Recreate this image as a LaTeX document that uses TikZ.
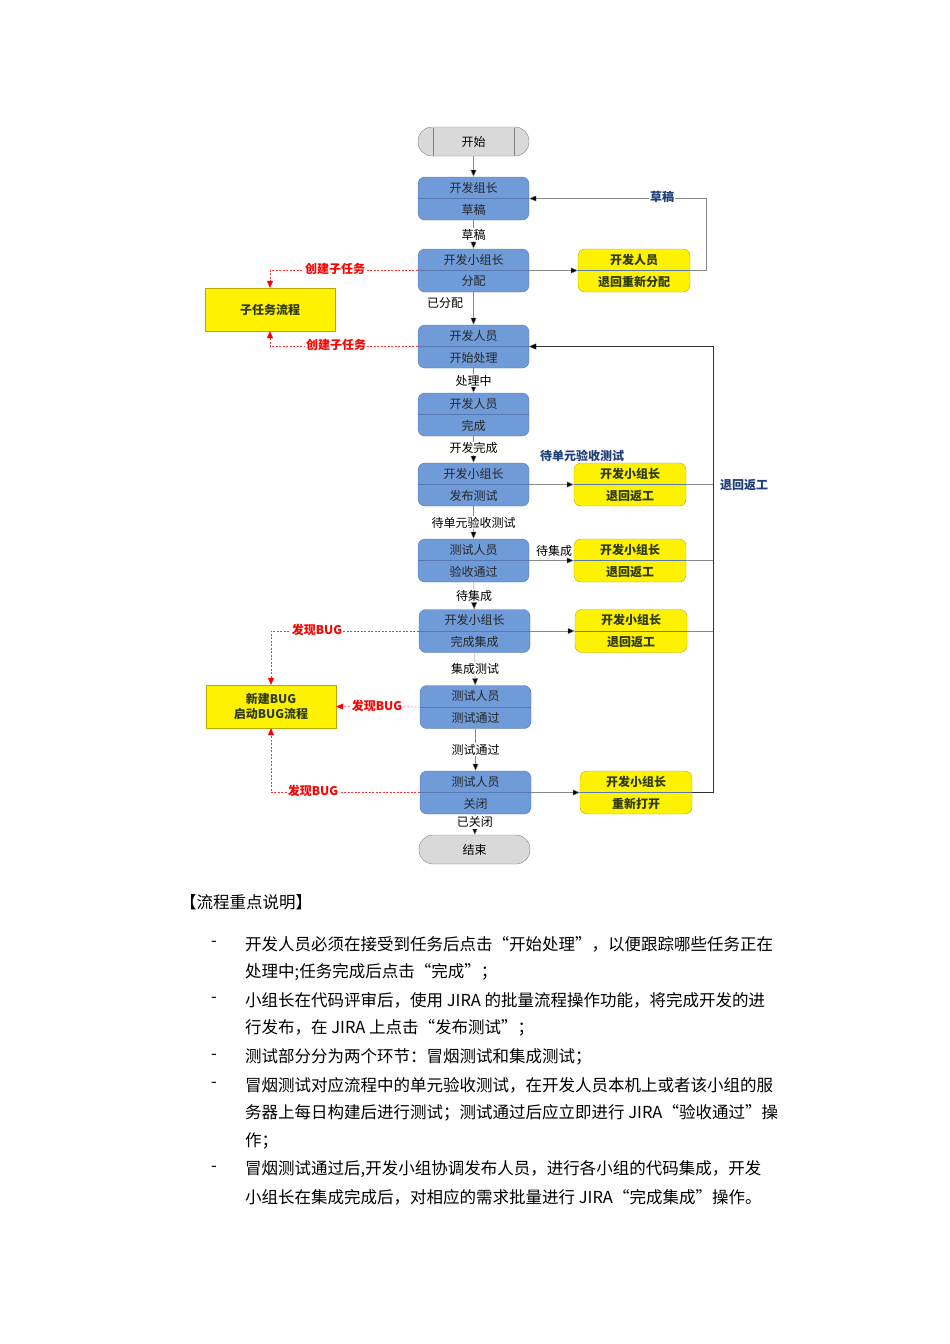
\documentclass[tikz,border=0pt]{standalone}
\usepackage{fontspec}
\setmainfont{Noto Sans CJK SC}
\usetikzlibrary{arrows.meta}
\definecolor{bfill}{HTML}{6F9BD8}
\definecolor{bdraw}{HTML}{5878B0}
\definecolor{ydraw}{HTML}{B8A800}
\definecolor{ytext}{HTML}{2E3A10}
\definecolor{lblue}{HTML}{1F3F7A}
\definecolor{gline}{HTML}{8A8A8A}
\tikzset{
 blue/.style={draw=bdraw,fill=bfill,rounded corners=7pt,minimum height=43pt,inner sep=0},
 yel/.style={draw=ydraw,fill=yellow,rounded corners=7pt,minimum height=43pt,inner sep=0},
 term/.style={draw=gray,fill=gray!30,rounded corners=14pt,minimum height=29pt,minimum width=111pt,font=\fontsize{12}{14}\selectfont},
 txt/.style={font=\fontsize{12}{14}\selectfont,text=black!85},
 ytxt/.style={font=\fontsize{12}{14}\selectfont\bfseries,text=ytext},
 flow/.style={draw=gline,-{Triangle[length=7pt,width=6pt]},arrows={-{Triangle[length=7pt,width=6pt,fill=black]}}},
 red/.style={draw=red!80,dashed,dash pattern=on 2pt off 1.5pt,thin,-{Triangle[length=7pt,width=6pt,fill=red,color=red]}},
 redl/.style={font=\fontsize{12}{14}\selectfont\bfseries,text=red,fill=white,inner sep=1pt},
 vl/.style={font=\fontsize{12}{14}\selectfont,fill=white,inner sep=1pt},
 body/.style={font=\fontsize{16.5}{20}\selectfont,anchor=west,inner sep=0}
}
\newcommand\blk[8]{% name,cx,cy,w,top,bottom,style,textstyle
 \node[#7,minimum width=#4pt] (#1) at (#2,#3) {};
 \draw[draw=bdraw] (#1.west) -- (#1.east);
 \node[#8] at (#2,#3-11) {#5};
 \node[#8] at (#2,#3+11) {#6};}
\begin{document}
\begin{tikzpicture}[x=1pt,y=-1pt]
\useasboundingbox[fill=white] (0,0) rectangle (950,1344);
% terminals
\node[term] (start) at (473.5,141.5) {开始};
\draw[gray] (433,127.5) -- (433,155.5) (514,127.5) -- (514,155.5);
\node[term] (end) at (474.5,849.5) {结束};
% blue blocks
\blk{b1}{473.5}{198.5}{111}{开发组长}{草稿}{blue}{txt}
\blk{b2}{473.5}{270.5}{111}{开发小组长}{分配}{blue}{txt}
\blk{b3}{473.5}{346.5}{111}{开发人员}{开始处理}{blue}{txt}
\blk{b4}{473.5}{414.5}{111}{开发人员}{完成}{blue}{txt}
\blk{b5}{473.5}{484.5}{111}{开发小组长}{发布测试}{blue}{txt}
\blk{b6}{473.5}{560.5}{111}{测试人员}{验收通过}{blue}{txt}
\blk{b7}{474.5}{631}{111}{开发小组长}{完成集成}{blue}{txt}
\blk{b8}{475.5}{707}{111}{测试人员}{测试通过}{blue}{txt}
\blk{b9}{475.5}{792.5}{111}{测试人员}{关闭}{blue}{txt}
% yellow blocks
\blk{y1}{634}{270.5}{112}{开发人员}{退回重新分配}{yel}{ytxt}
\blk{y2}{630}{484.5}{112}{开发小组长}{退回返工}{yel}{ytxt}
\blk{y3}{630}{560.5}{112}{开发小组长}{退回返工}{yel}{ytxt}
\blk{y4}{631}{631}{112}{开发小组长}{退回返工}{yel}{ytxt}
\blk{y5}{636}{792.5}{112}{开发小组长}{重新打开}{yel}{ytxt}
\node[draw=ydraw,fill=yellow,minimum width=130pt,minimum height=43pt] (sub) at (270,309.5) {};
\node[ytxt] at (sub) {子任务流程};
\node[draw=ydraw,fill=yellow,minimum width=130pt,minimum height=43pt,align=center,font=\fontsize{12}{15}\selectfont\bfseries,text=ytext] (bug) at (271,706.5) {新建BUG\\启动BUG流程};
% vertical flow
\draw[flow] (start) -- (b1);
\draw[flow] (b1) -- node[vl]{草稿} (b2);
\draw[flow] (b2) -- (b3);
\node[font=\fontsize{12}{14}\selectfont] at (445,303) {已分配};
\draw[flow] (b3) -- node[vl]{处理中} (b4);
\draw[flow] (b4) -- node[vl,pos=0.45]{开发完成} (b5);
\draw[flow] (b5) -- node[vl]{待单元验收测试} (b6);
\draw[flow] (b6) -- node[vl]{待集成} (b7);
\draw[flow] (b7) -- node[vl]{集成测试} (b8);
\draw[flow] (b8) -- node[vl]{测试通过} (b9);
\draw[flow] (b9) -- node[vl,pos=0.4]{已关闭} (end);
% right flows
\draw[flow] (b2.east) -- (y1.west);
\draw[flow] (b5.east) -- (y2.west);
\draw[flow] (b6.east) -- (y3.west);
\draw[flow] (b7.east) -- (y4.west);
\draw[flow] (b9.east) -- (y5.west);
\node[font=\fontsize{12}{14}\selectfont] at (554,551) {待集成};
\node[font=\fontsize{12}{14}\selectfont\bfseries,text=lblue] at (582,456) {待单元验收测试};
\coordinate (r1) at (706,270.5);
\coordinate (r2) at (706,198.5);
\draw[flow] (y1.east) -- (r1) -- (r2) -- (b1.east);
\node[font=\fontsize{12}{14}\selectfont\bfseries,text=lblue,fill=white,inner sep=1pt] at (662,197) {草稿};
\coordinate (q1) at (713,792.5);
\coordinate (q2) at (713,346.5);
\draw[flow,draw=black!80] (y5.east) -- (q1) -- (q2) -- (b3.east);
\draw[gline] (y2.east) -- (713,484.5) (y3.east) -- (713,560.5) (y4.east) -- (713,631);
\node[font=\fontsize{12}{14}\selectfont\bfseries,text=lblue] at (744,485) {退回返工};
% red dashed
\coordinate (c1) at (270,270.5);
\coordinate (c2) at (270,346.5);
\draw[red] (b2.west) -- (c1) -- (sub.north);
\draw[red] (b3.west) -- (c2) -- (sub.south);
\node[redl] at (335,269) {创建子任务};
\node[redl] at (336,345) {创建子任务};
\coordinate (d1) at (271,631);
\coordinate (d2) at (271,792.5);
\draw[red] (b7.west) -- (d1) -- (bug.north);
\draw[red] (b8.west) -- (bug.east);
\draw[red] (b9.west) -- (d2) -- (bug.south);
\node[redl] at (317,630) {发现BUG};
\node[redl] at (377,706) {发现BUG};
\node[redl] at (313,791) {发现BUG};
% text
\node[body] at (180,902) {【流程重点说明】};
\foreach \y in {944,1000,1057,1085,1169} \node[body] at (211,\y) {-};
\node[body] at (245,944) {开发人员必须在接受到任务后点击“开始处理”，以便跟踪哪些任务正在};
\node[body] at (245,972) {处理中;任务完成后点击“完成”；};
\node[body] at (245,1000) {小组长在代码评审后，使用 JIRA 的批量流程操作功能，将完成开发的进};
\node[body] at (245,1028) {行发布，在 JIRA 上点击“发布测试”；};
\node[body] at (245,1057) {测试部分分为两个环节：冒烟测试和集成测试；};
\node[body] at (245,1085) {冒烟测试对应流程中的单元验收测试，在开发人员本机上或者该小组的服};
\node[body] at (245,1113) {务器上每日构建后进行测试；测试通过后应立即进行 JIRA“验收通过”操};
\node[body] at (245,1141) {作；};
\node[body] at (245,1169) {冒烟测试通过后,开发小组协调发布人员，进行各小组的代码集成，开发};
\node[body] at (245,1197) {小组长在集成完成后，对相应的需求批量进行 JIRA“完成集成"操作。};
\end{tikzpicture}
\end{document}
